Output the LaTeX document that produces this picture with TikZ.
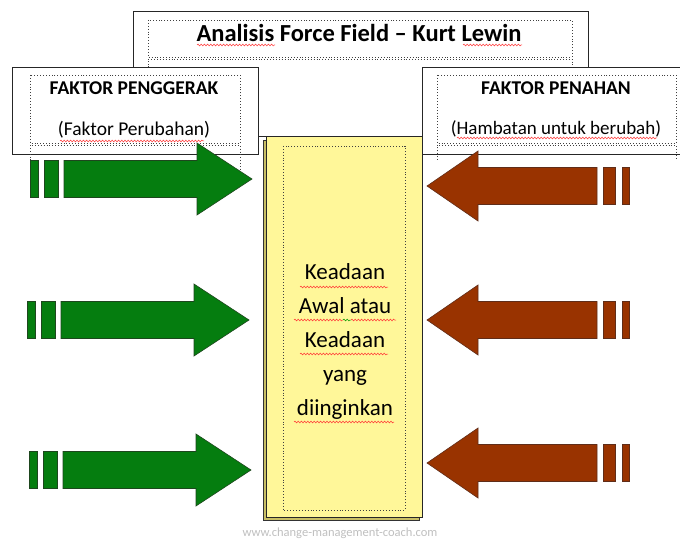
\documentclass[tikz,border=0pt]{standalone}
\usepackage{fontspec}
\setmainfont{Carlito}
\usetikzlibrary{positioning, decorations.pathmorphing}
\definecolor{pushgreen}{RGB}{5,125,15}
\definecolor{pushedge}{RGB}{30,70,30}
\definecolor{holdbrown}{RGB}{153,51,0}
\definecolor{holdedge}{RGB}{95,45,25}
\definecolor{stateyellow}{RGB}{255,247,153}
\definecolor{stateshadow}{RGB}{200,190,100}

\tikzset{
  frame/.style={draw=black!85, line width=1pt, fill=white},
  dotframe/.style={draw=black!75, dotted, line width=0.9pt},
  spell/.style={draw=red!80, line width=0.5pt, decorate,
    decoration={snake, amplitude=0.9pt, segment length=3.2pt}},
  pushfill/.style={fill=pushgreen, draw=pushedge, line width=0.6pt},
  holdfill/.style={fill=holdbrown, draw=holdedge, line width=0.6pt},
  pics/pusharrow/.style={code={
    \draw[pushfill] (0,-18.5) -- (133,-18.5) -- (133,-36) -- (188,0)
      -- (133,36) -- (133,18.5) -- (0,18.5) -- cycle;
    \draw[pushfill] (-20,-18.5) rectangle (-6,18.5);
    \draw[pushfill] (-34,-18.5) rectangle (-26,18.5);
  }},
  pics/holdarrow/.style={code={
    \draw[holdfill] (0,-18.5) -- (-119,-18.5) -- (-119,-35) -- (-170,0)
      -- (-119,35) -- (-119,18.5) -- (0,18.5) -- cycle;
    \draw[holdfill] (6,-18.5) rectangle (18,18.5);
    \draw[holdfill] (25,-18.5) rectangle (32,18.5);
  }}
}

\begin{document}
\begin{tikzpicture}[x=1pt, y=-1pt]
    \useasboundingbox (0,0) rectangle (680,540);

    % title box
    \draw[frame] (133,12) rectangle (588,137);
    \draw[dotframe] (148,20) rectangle (572,57);
    \draw[dotframe] (148,137) -- (148,59) -- (572,59) -- (572,137);
    \node[font=\fontsize{24.5}{28}\selectfont\bfseries] (title) at (359,33)
      {Analisis Force Field -- Kurt Lewin};
    \draw[spell] (197,45) -- (275,45);
    \draw[spell] (463,45) -- (522,45);

    % driving forces box
    \draw[frame] (12,68) rectangle (258,155);
    \draw[dotframe] (30,75) rectangle (240,143);
    \draw[dotframe] (30,172) -- (30,145) -- (240,145) -- (240,172);
    \node[font=\fontsize{19.5}{22}\selectfont\bfseries] (drivehead) at (134,88)
      {FAKTOR PENGGERAK};
    \node[font=\fontsize{19.5}{22}\selectfont] (drivesub) at (134,130)
      {(Faktor Perubahan)};
    \draw[spell] (60,141) -- (204,141);

    % restraining forces box
    \draw[frame] (422,68) rectangle (690,155);
    \draw[dotframe] (437,75) rectangle (676,143);
    \draw[dotframe] (437,160) -- (437,145) -- (676,145) -- (676,160);
    \node[font=\fontsize{19.5}{22}\selectfont\bfseries] (holdhead) at (556,88)
      {FAKTOR PENAHAN};
    \node[font=\fontsize{19}{22}\selectfont] (holdsub) at (556,129)
      {(Hambatan untuk berubah)};
    \draw[spell] (457,138) -- (657,138);

    % arrows
    \foreach \x/\y in {64/179, 61/320, 63/470}
        \pic at (\x,\y) {pusharrow};
    \foreach \y in {186, 320, 463}
        \pic at (597,\y) {holdarrow};

    % state box
    \draw[fill=stateshadow, draw=black!80, line width=0.8pt] (263,140) rectangle (419,520);
    \draw[fill=stateyellow, draw=black!85, line width=1pt] (266,137) rectangle (422,517);
    \draw[dotframe] (283,146) rectangle (405,510);
    \node[font=\fontsize{23}{34}\selectfont, align=center] (state) at (345,341)
      {Keadaan\\Awal atau\\Keadaan\\yang\\diinginkan};
    \draw[spell] (300,287) -- (388,287);
    \draw[spell] (294,320) -- (343,320);
    \draw[spell, draw=green!60!black] (343,320) -- (351,320);
    \draw[spell] (351,320) -- (396,320);
    \draw[spell] (300,354) -- (388,354);
    \draw[spell] (294,422) -- (394,422);

    \node[font=\fontsize{12.5}{14}\selectfont, text=black!25] (credit) at (340,533)
      {www.change-management-coach.com};
\end{tikzpicture}
\end{document}
